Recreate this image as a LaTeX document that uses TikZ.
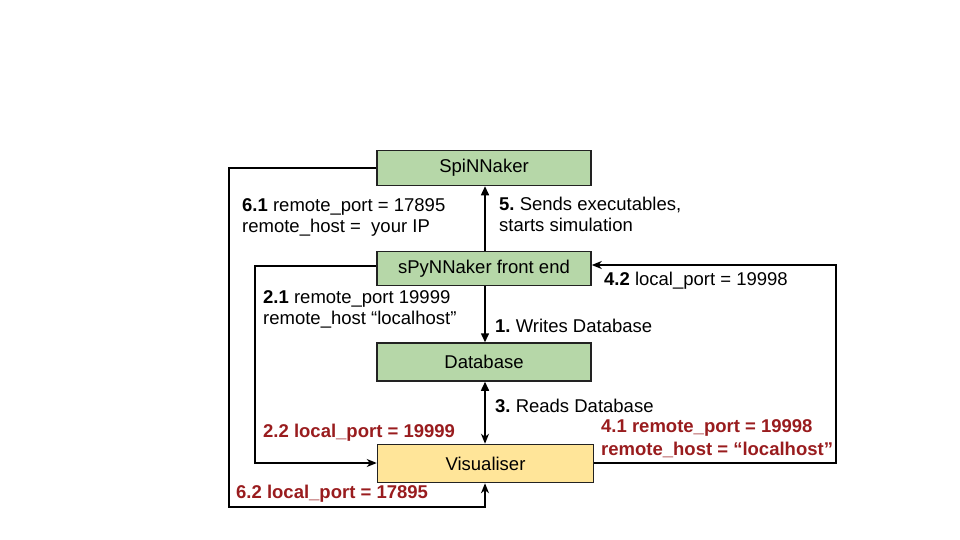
\documentclass[tikz,border=0pt]{standalone}
\usepackage{fontspec}
\setmainfont{Liberation Sans}
\usetikzlibrary{arrows.meta}
\definecolor{boxgreen}{HTML}{B6D7A8}
\definecolor{boxyellow}{HTML}{FFE599}
\definecolor{darkred}{RGB}{153,28,30}
\definecolor{edgegray}{HTML}{222222}
\frenchspacing
\tikzset{
  box/.style={draw=edgegray, line width=1.5pt, minimum width=214pt, minimum height=35pt, inner sep=0pt, font=\fontsize{18.5}{21}\selectfont},
  gbox/.style={box, fill=boxgreen},
  ybox/.style={box, fill=boxyellow},
  lbl/.style={anchor=west, align=left, inner sep=0pt, font=\fontsize{18.5}{21.5}\selectfont},
  rlbl/.style={lbl, text=darkred, font=\fontsize{18.5}{22.5}\selectfont\bfseries},
  conn/.style={line width=1.5pt, draw=black},
  tri/.style={-{Triangle[length=9pt,width=8pt]}},
  stl/.style={-{Stealth[length=10pt,width=8pt,inset=3pt]}}
}
\begin{document}
\begin{tikzpicture}[x=1pt,y=-1pt]
\useasboundingbox (0,0) rectangle (960,540);
\node[gbox] (spin) at (484,168) {SpiNNaker};
\node[gbox, minimum height=34pt] (front) at (484,268.5) {sPyNNaker front end};
\node[gbox, minimum height=38pt] (db) at (484,362) {Database};
\node[ybox, minimum width=216pt, minimum height=38pt] (vis) at (485.5,463.5) {Visualiser};

\coordinate (a1) at (229,168);
\coordinate (a2) at (229,507);
\coordinate (a3) at (485,507);
\coordinate (b1) at (255,266);
\coordinate (b2) at (255,463);
\coordinate (c1) at (836,463);
\coordinate (c2) at (836,265);

\draw[conn, tri] (front.north -| 485,0) -- (spin.south -| 485,0);
\draw[conn, tri] (front.south -| 485,0) -- (db.north -| 485,0);
\draw[conn, {Triangle[length=9pt,width=8pt]}-{Stealth[length=10pt,width=8pt,inset=3pt]}] (db.south -| 485,0) -- (vis.north -| 485,0);
\draw[conn, stl] (spin.west) -- (a1) -- (a2) -- (a3) -- (vis.south -| a3);
\draw[conn, stl] (front.west |- b1) -- (b1) -- (b2) -- (vis.west |- b2);
\draw[conn, stl] (vis.east |- c1) -- (c1) -- (c2) -- (front.east |- c2);

\node[lbl] (l61) at (242,217.5) {\textbf{6.1} remote\_port = 17895\\remote\_host =\ \ your IP};
\node[lbl] (l5) at (499,214.5) {\textbf{5.} Sends executables,\\starts simulation};
\node[lbl] (l42) at (604,281) {\textbf{4.2} local\_port = 19998};
\node[lbl] (l21) at (263,309.5) {\textbf{2.1} remote\_port 19999\\remote\_host “localhost”};
\node[lbl] (l1) at (495,326) {\textbf{1.} Writes Database};
\node[lbl] (l3) at (495,406) {\textbf{3.} Reads Database};
\node[rlbl] (l22) at (263,433) {2.2 local\_port = 19999};
\node[rlbl] (l41) at (601,438.5) {4.1 remote\_port = 19998\\remote\_host = “localhost”};
\node[rlbl] (l62) at (236,494) {6.2 local\_port = 17895};
\end{tikzpicture}
\end{document}
